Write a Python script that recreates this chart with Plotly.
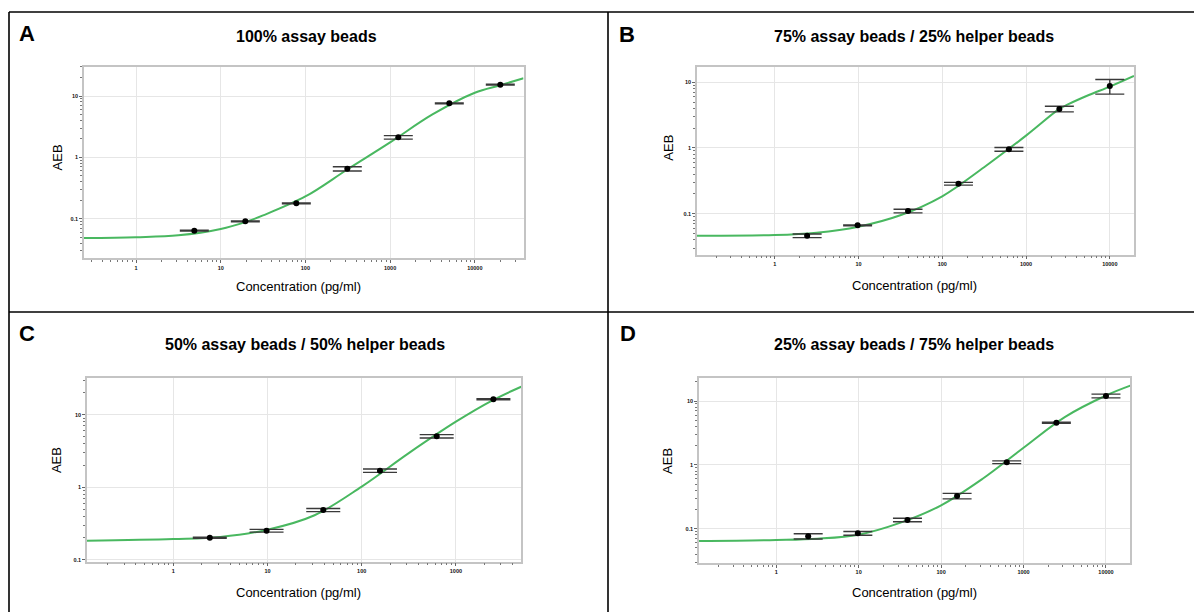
import plotly.graph_objects as go

W, H = 1194, 612

# ---------------- data ----------------
panel_letters = ["A", "B", "C", "D"]
panel_titles = [
    "100% assay beads",
    "75% assay beads / 25% helper beads",
    "50% assay beads / 50% helper beads",
    "25% assay beads / 75% helper beads",
]
x_title = "Concentration (pg/ml)"
y_title = "AEB"

conc_A = [4.88, 19.53, 78.13, 312.5, 1250, 5000, 20000]
aeb_A = [0.0636, 0.0907, 0.178, 0.652, 2.12, 7.6, 15.3]
err_A = [0.001, 0.0015, 0.003, 0.052, 0.14, 0.12, 0.25]

conc_B = [2.44, 9.77, 39.06, 156.25, 625, 2500, 10000]
aeb_B = [0.0462, 0.0665, 0.110, 0.286, 0.955, 3.93, 8.8]
err_B = [0.003, 0.001, 0.007, 0.014, 0.063, 0.39, 2.2]

conc_C = [2.44, 9.77, 39.06, 156.25, 625, 2500]
aeb_C = [0.201, 0.251, 0.484, 1.69, 5.04, 16.3]
err_C = [0.003, 0.011, 0.024, 0.09, 0.27, 0.25]

conc_D = [2.44, 9.77, 39.06, 156.25, 625, 2500, 10000]
aeb_D = [0.076, 0.0847, 0.137, 0.325, 1.10, 4.57, 12.0]
err_D = [0.007, 0.0058, 0.0085, 0.032, 0.054, 0.08, 0.8]

# fitted curves
fit_x_A = [0.243, 1, 3.16, 10, 19.5, 31.6, 100, 316, 1000, 3162, 10000, 20000, 37600]
fit_y_A = [0.0484, 0.0500, 0.0536, 0.068, 0.088, 0.113, 0.23, 0.64, 1.75, 5.0, 11.3, 15.0, 19.5]

fit_x_B = [0.118, 1, 3.16, 10, 31.6, 100, 316, 1000, 2500, 3162, 5623, 10000, 19450]
fit_y_B = [0.0462, 0.0473, 0.0514, 0.0634, 0.0945, 0.184, 0.51, 1.54, 3.93, 4.6, 6.4, 8.6, 12.5]

fit_x_C = [0.121, 1, 3.16, 10, 31.6, 100, 316, 1000, 2500, 4930]
fit_y_C = [0.183, 0.193, 0.206, 0.259, 0.41, 1.02, 2.95, 8.0, 16.0, 24.3]

fit_x_D = [0.1156, 1, 3.16, 10, 31.6, 100, 316, 1000, 3162, 10000, 19720]
fit_y_D = [0.064, 0.0665, 0.0697, 0.0805, 0.123, 0.232, 0.60, 1.85, 5.6, 12.2, 17.4]

x_tickvals = [0.1, 1, 10, 100, 1000, 10000]
x_ticktext = ["0.1", "1", "10", "100", "1000", "10000"]
y_tickvals = [0.1, 1, 10]
y_ticktext = ["0.1", "1", "10"]

# ---------------- layout geometry (pixels) ----------------
# plot boxes: (x0, x1, ytop, ybottom), log ranges
boxes = [
    (84, 523.5, 66.7, 258.3, [-0.614, 4.575], [-1.646, 1.478]),
    (697, 1134, 66.7, 254.7, [-0.927, 4.289], [-1.624, 1.237]),
    (87, 521.2, 378, 561.5, [-0.916, 3.693], [-1.025, 1.506]),
    (699, 1130.3, 377.7, 563, [-0.937, 4.295], [-1.538, 1.365]),
]
cap_w = [14.5, 14.5, 17, 14.5]
letter_pos = [(27, 33), (627, 34), (27, 333), (628, 333)]
title_pos = [(306, 36), (914, 36.5), (304.6, 344.5), (914, 344)]
ytitle_pos = [(57.4, 157), (668.2, 147.5), (56.6, 460.5), (667.4, 460.5)]
xtitle_pos = [(298, 286.5), (914.4, 285), (298, 592), (914.4, 592)]

datasets = [
    (conc_A, aeb_A, err_A, fit_x_A, fit_y_A),
    (conc_B, aeb_B, err_B, fit_x_B, fit_y_B),
    (conc_C, aeb_C, err_C, fit_x_C, fit_y_C),
    (conc_D, aeb_D, err_D, fit_x_D, fit_y_D),
]

GREEN = "#49b860"
fig = go.Figure()
layout = dict(
    width=W, height=H, margin=dict(l=0, r=0, t=0, b=0),
    paper_bgcolor="white", plot_bgcolor="white", showlegend=False,
    annotations=[], shapes=[],
)

def px(x):
    return x / W

def py(y):
    return 1 - y / H

tickfont = dict(family="Liberation Sans", size=5.5, color="#111", weight="bold")

for i, (box, data) in enumerate(zip(boxes, datasets)):
    x0, x1, yt, yb, xr, yr = box
    conc, aeb, err, fx, fy = data
    n = "" if i == 0 else str(i + 1)
    xa, ya = "x" + n, "y" + n
    fig.add_trace(go.Scatter(
        x=fx, y=fy, mode="lines", xaxis=xa, yaxis=ya,
        line=dict(color=GREEN, width=2, shape="spline", smoothing=1.0),
        hoverinfo="skip",
    ))
    fig.add_trace(go.Scatter(
        x=conc, y=aeb, mode="markers", xaxis=xa, yaxis=ya,
        marker=dict(color="black", size=6),
        error_y=dict(type="data", array=err, visible=True,
                     color="#3a3a3a", thickness=1.4, width=cap_w[i]),
    ))
    common = dict(
        type="log", showgrid=True, gridcolor="#e6e6e6", gridwidth=1,
        showline=True, linecolor="#c4c4c4", linewidth=1.5, mirror=True,
        ticks="outside", ticklen=3, tickcolor="#666", tickwidth=1,
        tickfont=tickfont, zeroline=False, tickmode="array",
        minor=dict(ticks="outside", ticklen=2, tickcolor="#777",
                   tickwidth=1, showgrid=False, dtick="D1"),
    )
    layout["xaxis" + n] = dict(
        common, domain=[px(x0), px(x1)], range=xr, anchor=ya,
        tickvals=x_tickvals, ticktext=x_ticktext,
    )
    layout["yaxis" + n] = dict(
        common, domain=[py(yb), py(yt)], range=yr, anchor=xa,
        tickvals=y_tickvals, ticktext=y_ticktext,
    )
    lx, ly = letter_pos[i]
    layout["annotations"].append(dict(
        text="<b>%s</b>" % panel_letters[i], x=px(lx), y=py(ly), xref="paper", yref="paper",
        showarrow=False, xanchor="center", yanchor="middle",
        font=dict(family="Liberation Sans", size=22, color="black")))
    tx, ty = title_pos[i]
    layout["annotations"].append(dict(
        text="<b>%s</b>" % panel_titles[i], x=px(tx), y=py(ty), xref="paper", yref="paper",
        showarrow=False, xanchor="center", yanchor="middle",
        font=dict(family="Liberation Sans", size=16, color="black")))
    ax_, ay_ = ytitle_pos[i]
    layout["annotations"].append(dict(
        text=y_title, x=px(ax_), y=py(ay_), xref="paper", yref="paper", textangle=-90,
        showarrow=False, xanchor="center", yanchor="middle",
        font=dict(family="Liberation Sans", size=13, color="black")))
    bx, by = xtitle_pos[i]
    layout["annotations"].append(dict(
        text=x_title, x=px(bx), y=py(by), xref="paper", yref="paper",
        showarrow=False, xanchor="center", yanchor="middle",
        font=dict(family="Liberation Sans", size=13, color="black")))

# panel frame lines
frame = dict(color="black", width=1.6)
for (xa0, ya0, xa1, ya1) in [(9, 12, W, 12), (9, 312, W, 312), (9, 12, 9, H), (608, 12, 608, H)]:
    layout["shapes"].append(dict(type="line", xref="paper", yref="paper",
                                 x0=px(xa0), y0=py(ya0), x1=px(xa1), y1=py(ya1), line=frame))

fig.update_layout(**layout)
fig.write_html("out.html")
